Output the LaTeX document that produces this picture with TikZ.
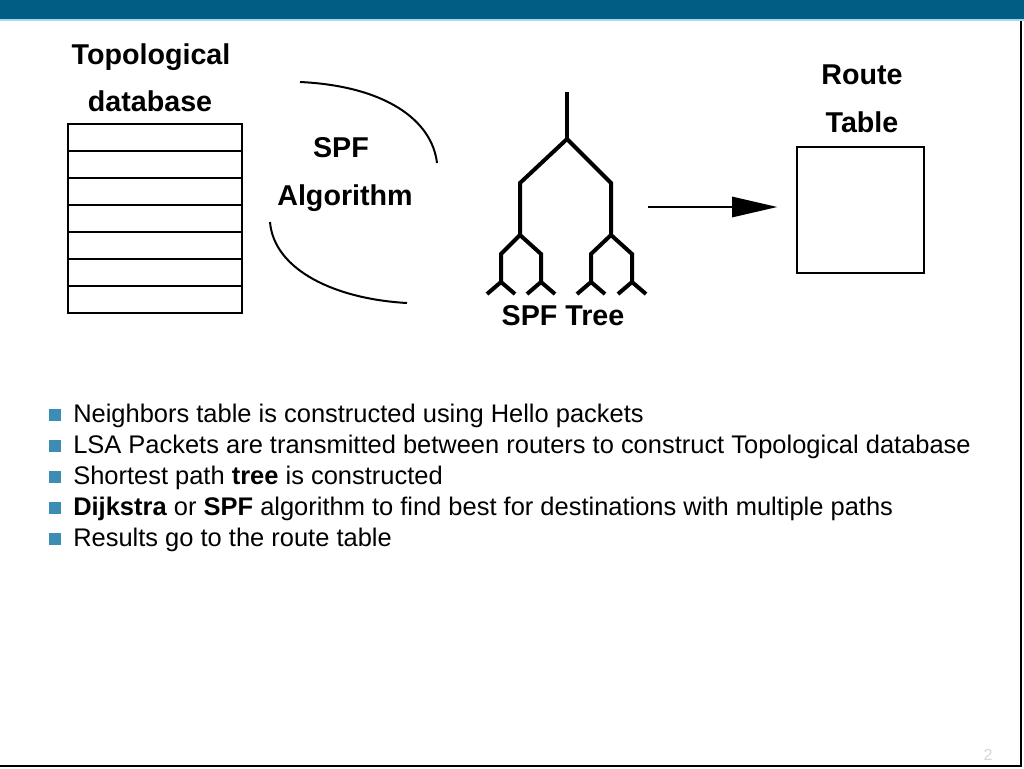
\documentclass[tikz,border=0pt]{standalone}
\usepackage{fontspec}
\setmainfont{Liberation Sans}
\usetikzlibrary{arrows.meta}
\definecolor{barblue}{RGB}{0,94,132}
\definecolor{barlight}{RGB}{170,215,235}
\definecolor{bulletblue}{RGB}{60,140,180}
\definecolor{pagegray}{RGB}{215,215,215}
\tikzset{
  lab/.style={font=\bfseries\fontsize{21.5pt}{25pt}\selectfont, inner sep=0pt, anchor=base},
  thin line/.style={line width=1.5pt},
  treeline/.style={line width=3pt, line join=miter, line cap=butt},
  bullet/.style={fill=bulletblue, minimum size=9pt, inner sep=0pt},
  btext/.style={anchor=base west, inner sep=0pt, font=\fontsize{19.1pt}{22pt}\selectfont},
}
\begin{document}
\begin{tikzpicture}[x=0.75pt,y=-0.75pt]
\useasboundingbox (0,0) rectangle (1024,768);
\fill[white] (0,0) rectangle (1024,768);
\fill[barblue] (0,0) rectangle (1024,19);
\fill[barlight] (0,19) rectangle (1024,21);
\draw[line width=1.5pt] (1021,21) -- (1021,766) -- (0,766);

% Topological database
\node[lab] (tdb1) at (151,64) {Topological};
\node[lab] (tdb2) at (150,111) {database};
\draw[thin line] (68,124) rectangle (242,313);
\foreach \y in {151,178,205,232,259,286} \draw[thin line] (68,\y) -- (242,\y);

% SPF algorithm
\node[lab] (spf1) at (341,157) {SPF};
\node[lab] (spf2) at (345,205) {Algorithm};
\draw[thin line] (300,82) .. controls (385,86) and (432,120) .. (437,163);
\draw[thin line] (270,222) .. controls (274,270) and (335,299) .. (407,303);

% SPF tree
\draw[treeline] (567,92) -- (567,139);
\draw[treeline] (520,235) -- (520,183) -- (567,139) -- (611,183) -- (611,235);
\draw[treeline] (501,282) -- (501,254) -- (520,235) -- (541,254) -- (541,282);
\draw[treeline] (591,282) -- (591,254) -- (611,235) -- (632,254) -- (632,282);
\draw[treeline] (520,235) -- (520,230);
\draw[treeline] (611,235) -- (611,230);
\foreach \x in {501,541,591,632}
  \draw[treeline] (\x-14,294) -- (\x,282) -- (\x+14,294);
\node[lab] (tree) at (563,325) {SPF Tree};

% Route table
\node[lab] (rt1) at (862,84) {Route};
\node[lab] (rt2) at (862,132) {Table};
\node[draw, thin line, minimum width=95pt, minimum height=94.5pt, inner sep=0pt] (rt) at (860.5,210) {};
\coordinate (arrstart) at (648,207);
\draw[line width=2.2pt, -{Triangle[length=34pt,width=15pt]}] (arrstart) -- ([yshift=2.25pt]rt.west) [shorten >=14pt];

% Bullets
\foreach \i/\t in {0/{Neighbors table is constructed using Hello packets},
                   1/{LSA Packets are transmitted between routers to construct Topological database},
                   2/{Shortest path \textbf{tree} is constructed},
                   3/{\textbf{Dijkstra} or \textbf{SPF} algorithm to find best for destinations with multiple paths},
                   4/{Results go to the route table}} {
  \node[bullet] (b\i) at (55,415+31*\i) {};
  \node[btext] (t\i) at (73,422+31*\i) {\t};
}

\node[font=\fontsize{12pt}{14pt}\selectfont, text=pagegray] (pg) at (988,755) {2};
\end{tikzpicture}
\end{document}
